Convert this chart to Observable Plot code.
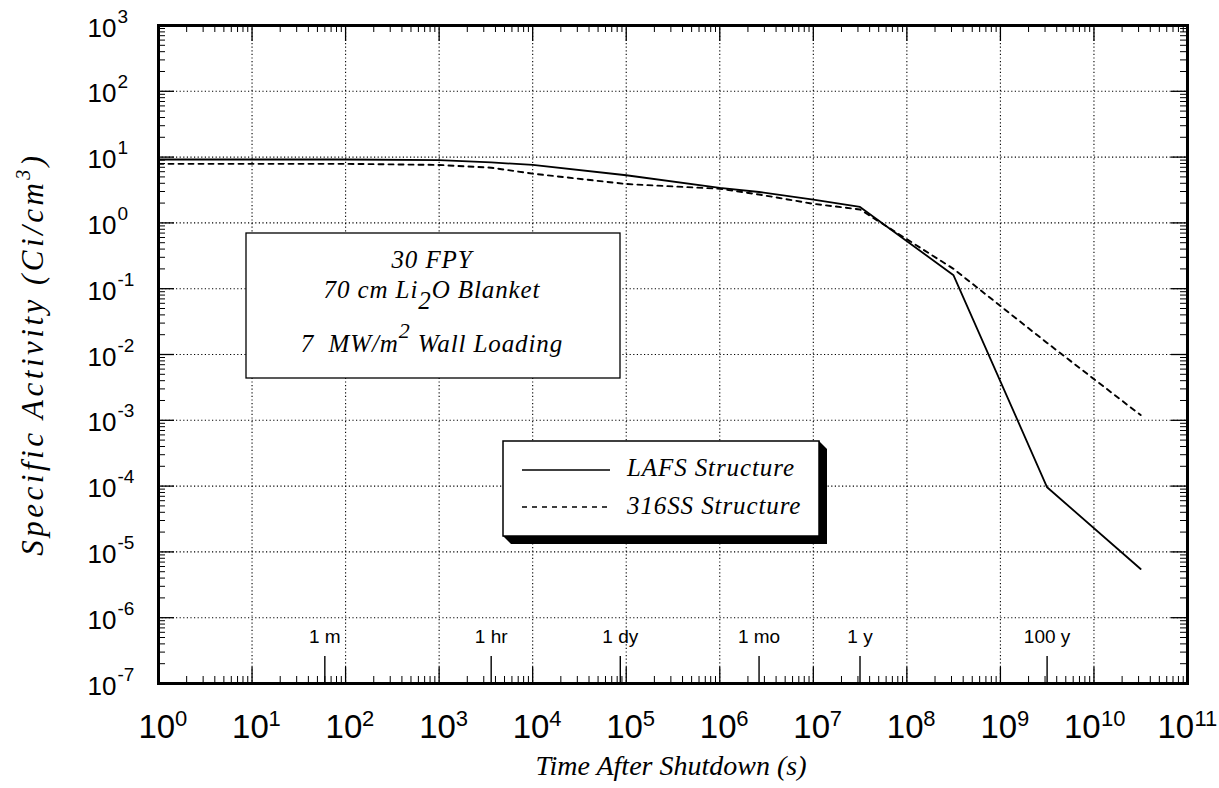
<!DOCTYPE html>
<html><head><meta charset="utf-8">
<script src="https://cdn.jsdelivr.net/npm/d3@7"></script>
<script src="https://cdn.jsdelivr.net/npm/@observablehq/plot@0.6"></script>
<style>body{margin:0;background:#fff;} svg{display:block;}</style>
</head><body><div id="chart"></div>
<script>
// ---- data ----
const times = [1, 10, 100, 1000, 3600, 1e4, 1e5, 1e6, 2.63e6, 1e7, 3.156e7, 3.156e8, 3.156e9, 3.156e10];
const lafs  = [9.2, 9.2, 9.2, 9.0, 8.3, 7.6, 5.3, 3.4, 2.95, 2.25, 1.75, 0.16, 9.6e-5, 5.5e-6];
const ss316 = [7.9, 7.9, 7.9, 7.6, 6.9, 5.6, 3.9, 3.3, 2.7, 1.95, 1.6, 0.2, 0.015, 1.2e-3];
const seriesNames = ["LAFS Structure", "316SS Structure"];
const xExponents = [0,1,2,3,4,5,6,7,8,9,10,11];
const yExponents = [-7,-6,-5,-4,-3,-2,-1,0,1,2,3];
const markerTimes  = [60, 3600, 86400, 2.63e6, 3.156e7, 3.156e9];
const markerLabels = ["1 m", "1 hr", "1 dy", "1 mo", "1 y", "100 y"];
const xTitle = "Time After Shutdown (s)";
const yTitle = ["Specific Activity (Ci/cm", "3", ")"];
const noteLines = ["30 FPY", "70 cm Li", "2", "O Blanket", "7  MW/m", "2", " Wall Loading"];

// ---- layout ----
const W = 1219, H = 788;
const mL = 158, mR = 32, mT = 25, mB = 105;
const pw = W - mL - mR, ph = H - mT - mB;
const sans = "'Liberation Sans', Arial, Helvetica, sans-serif";
const serif = "'Liberation Serif', 'Times New Roman', Times, serif";

const majX = xExponents.map(e => 10 ** e);
const majY = yExponents.map(e => 10 ** e);
const minorX = xExponents.slice(0, -1).flatMap(e => d3.range(2, 10).map(k => k * 10 ** e));
const minorY = yExponents.slice(0, -1).flatMap(e => d3.range(2, 10).map(k => k * 10 ** e));
const xOne = xExponents.filter(e => String(e).length === 1);
const xTwo = xExponents.filter(e => String(e).length === 2);
const grid = {stroke: "#000", strokeWidth: 1.1, strokeDasharray: "1.2,2.4"};

const svg = Plot.plot({
  width: W, height: H,
  marginLeft: mL, marginRight: mR, marginTop: mT, marginBottom: mB,
  style: {background: "#fff", fontFamily: sans, color: "#000"},
  x: {type: "log", domain: [1, 1e11], axis: null},
  y: {type: "log", domain: [1e-7, 1e3], axis: null},
  marks: [
    Plot.ruleX(majX, {x: d => d, ...grid}),
    Plot.ruleY(majY, {y: d => d, ...grid}),
    // ticks (inward on all four sides)
    Plot.ruleX(minorX, {x: d => d, insetTop: ph - 7, stroke: "#000"}),
    Plot.ruleX(minorX, {x: d => d, insetBottom: ph - 7, stroke: "#000"}),
    Plot.ruleX(majX, {x: d => d, insetTop: ph - 16, stroke: "#000", strokeWidth: 1.3}),
    Plot.ruleX(majX, {x: d => d, insetBottom: ph - 16, stroke: "#000", strokeWidth: 1.3}),
    Plot.ruleY(minorY, {y: d => d, insetRight: pw - 7, stroke: "#000"}),
    Plot.ruleY(minorY, {y: d => d, insetLeft: pw - 7, stroke: "#000"}),
    Plot.ruleY(majY, {y: d => d, insetRight: pw - 16, stroke: "#000", strokeWidth: 1.3}),
    Plot.ruleY(majY, {y: d => d, insetLeft: pw - 16, stroke: "#000", strokeWidth: 1.3}),
    // time markers
    Plot.ruleX(markerTimes, {x: d => d, insetTop: ph - 27, stroke: "#000", strokeWidth: 1.4}),
    Plot.text(markerTimes, {x: d => d, text: (d, i) => markerLabels[i], frameAnchor: "bottom", lineAnchor: "bottom",
      dy: -41, fontSize: 19, fontFamily: sans, fill: "#000"}),
    // series
    Plot.line(times, {x: d => d, y: (d, i) => lafs[i], stroke: "#000", strokeWidth: 1.8}),
    Plot.line(times, {x: d => d, y: (d, i) => ss316[i], stroke: "#000", strokeWidth: 1.9, strokeDasharray: "5,5"}),
    Plot.frame({stroke: "#000", strokeWidth: 3}),
    // x tick labels
    Plot.text(xOne, {x: e => 10 ** e, text: () => "10", frameAnchor: "bottom", lineAnchor: "bottom", textAnchor: "start",
      dx: -20, dy: 54, fontSize: 33, fontFamily: sans, fill: "#000"}),
    Plot.text(xOne, {x: e => 10 ** e, text: e => String(e), frameAnchor: "bottom", lineAnchor: "bottom", textAnchor: "start",
      dx: 16.5, dy: 42, fontSize: 22, fontFamily: sans, fill: "#000"}),
    Plot.text(xTwo, {x: e => 10 ** e, text: () => "10", frameAnchor: "bottom", lineAnchor: "bottom", textAnchor: "start",
      dx: -30, dy: 54, fontSize: 33, fontFamily: sans, fill: "#000"}),
    Plot.text(xTwo, {x: e => 10 ** e, text: e => String(e), frameAnchor: "bottom", lineAnchor: "bottom", textAnchor: "start",
      dx: 7, dy: 42, fontSize: 22, fontFamily: sans, fill: "#000"}),
    // y tick labels
    Plot.text(yExponents, {y: e => 10 ** e, text: () => "10", frameAnchor: "left", lineAnchor: "bottom", textAnchor: "start",
      dx: -71, dy: 11, fontSize: 26, fontFamily: sans, fill: "#000"}),
    Plot.text(yExponents, {y: e => 10 ** e, text: e => String(e), frameAnchor: "left", lineAnchor: "bottom", textAnchor: "start",
      dx: -41, dy: -3, fontSize: 19, fontFamily: sans, fill: "#000"})
  ]
});
document.getElementById("chart").appendChild(svg);

// ---- annotations (titles, note box, legend) ----
const s = d3.select(svg);
const ital = sel => sel.attr("font-family", serif).attr("font-style", "italic").attr("fill", "#000");

// axis titles
s.append("text").call(ital).attr("x", 671).attr("y", 775)
  .attr("text-anchor", "middle").attr("font-size", 28).text(xTitle);
const yt = s.append("text").call(ital).attr("transform", `translate(43,${354}) rotate(-90)`)
  .attr("text-anchor", "middle").attr("font-size", 31).attr("letter-spacing", 3.5);
yt.append("tspan").text(yTitle[0]);
yt.append("tspan").attr("font-size", 20).attr("dy", -13).text(yTitle[1]);
yt.append("tspan").attr("dy", 13).text(yTitle[2]);

// note box
const nb = s.append("g");
nb.append("rect").attr("x", 246).attr("y", 233).attr("width", 374).attr("height", 145)
  .attr("fill", "#fff").attr("stroke", "#000").attr("stroke-width", 1.3);
const nt = (y) => nb.append("text").call(ital).attr("x", 432).attr("y", y).attr("text-anchor", "middle")
  .attr("font-size", 25).attr("letter-spacing", 0.9);
nt(268).text(noteLines[0]);
const l2 = nt(298);
l2.append("tspan").text(noteLines[1]);
l2.append("tspan").attr("dy", 11).attr("font-size", 25).text(noteLines[2]);
l2.append("tspan").attr("dy", -11).text(noteLines[3]);
const l3 = nt(352);
l3.append("tspan").text(noteLines[4]);
l3.append("tspan").attr("dy", -14).attr("font-size", 22).text(noteLines[5]);
l3.append("tspan").attr("dy", 14).text(noteLines[6]);

// legend box with 3D shadow
const lg = s.append("g");
const bx = 503, by = 441, bw = 316, bh = 95, sh = 8;
lg.append("polygon").attr("fill", "#000")
  .attr("points", [[bx + bw, by], [bx + bw + sh, by + sh], [bx + bw + sh, by + bh + sh], [bx + sh, by + bh + sh], [bx, by + bh]].join(" "));
lg.append("rect").attr("x", bx).attr("y", by).attr("width", bw).attr("height", bh)
  .attr("fill", "#fff").attr("stroke", "#000").attr("stroke-width", 1.5);
lg.append("line").attr("x1", 522).attr("x2", 610).attr("y1", 470).attr("y2", 470).attr("stroke", "#000").attr("stroke-width", 1.4);
lg.append("line").attr("x1", 522).attr("x2", 610).attr("y1", 507).attr("y2", 507).attr("stroke", "#000").attr("stroke-width", 1.4)
  .attr("stroke-dasharray", "5,5");
lg.append("text").call(ital).attr("x", 627).attr("y", 476).attr("text-anchor", "start")
  .attr("font-size", 25).attr("letter-spacing", 0.9).text(seriesNames[0]);
lg.append("text").call(ital).attr("x", 627).attr("y", 514).attr("text-anchor", "start")
  .attr("font-size", 25).attr("letter-spacing", 0.9).text(seriesNames[1]);
</script>
</body></html>
